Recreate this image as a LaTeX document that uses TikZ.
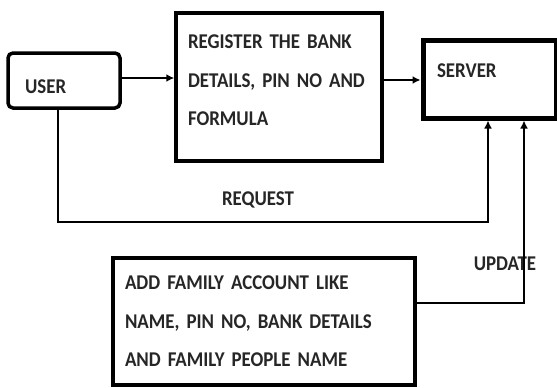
\documentclass[tikz,border=0pt]{standalone}
\usepackage{fontspec}
\setmainfont{Carlito}[FakeStretch=0.9]
\usetikzlibrary{arrows.meta, positioning}
\definecolor{boxtext}{HTML}{262626}

\begin{document}
\begin{tikzpicture}[x=1pt, y=-1pt,
      block/.style={rectangle, draw=black, line width=3.5pt, fill=white, text=boxtext, align=left, font=\bfseries\fontsize{21}{38.5}\selectfont, inner ysep=0pt},
      tag/.style={text=boxtext, font=\bfseries\fontsize{21}{22}\selectfont, inner sep=0pt},
      arrow/.style={-{Latex[length=8pt, width=8pt]}, line width=2.5pt},
      line/.style={-{Latex[length=8pt, width=8pt]}, line width=1.8pt},
    ]
    \useasboundingbox (0,0) rectangle (557,388);
    \clip (0,0) rectangle (557,388);

    \node[block, rounded corners=5pt, minimum width=112pt, minimum height=55pt, text width=78pt, inner xsep=17pt, text height=27pt] (user) at (64,80.5) {USER};
    \node[block, minimum width=206pt, minimum height=148pt, text width=182pt, inner xsep=12pt, text depth=90pt] (register) at (279,87) {REGISTER THE BANK\\ DETAILS, PIN NO AND\\ FORMULA};
    \node[block, line width=5pt, minimum width=133pt, minimum height=78pt, text width=105pt, inner xsep=14pt, text depth=16pt] (server) at (489.5,79) {SERVER};
    \node[block, minimum width=302pt, minimum height=127pt, text width=278pt, inner xsep=12pt] (addfamily) at (264,321.5) {ADD FAMILY ACCOUNT LIKE\\ NAME, PIN NO, BANK DETAILS\\ AND FAMILY PEOPLE NAME};

    \coordinate (reqturn) at (488,222);
    \coordinate (updturn) at (524,303);

    \node[tag] (reqlabel) at (258,200) {REQUEST};
    \node[tag] (updlabel) at (505,264) {UPDATE};

    \draw[arrow] (user.east |- 0,78) -- (register.west |- 0,78);
    \draw[arrow] (register.east |- 0,80) -- (server.west |- 0,80);
    \draw[line] ([xshift=-6pt]user.south) |- (reqturn) -- (reqturn |- server.south);
    \draw[line] (addfamily.east |- updturn) -- (updturn) -- (updturn |- server.south);
  \end{tikzpicture}
\end{document}
